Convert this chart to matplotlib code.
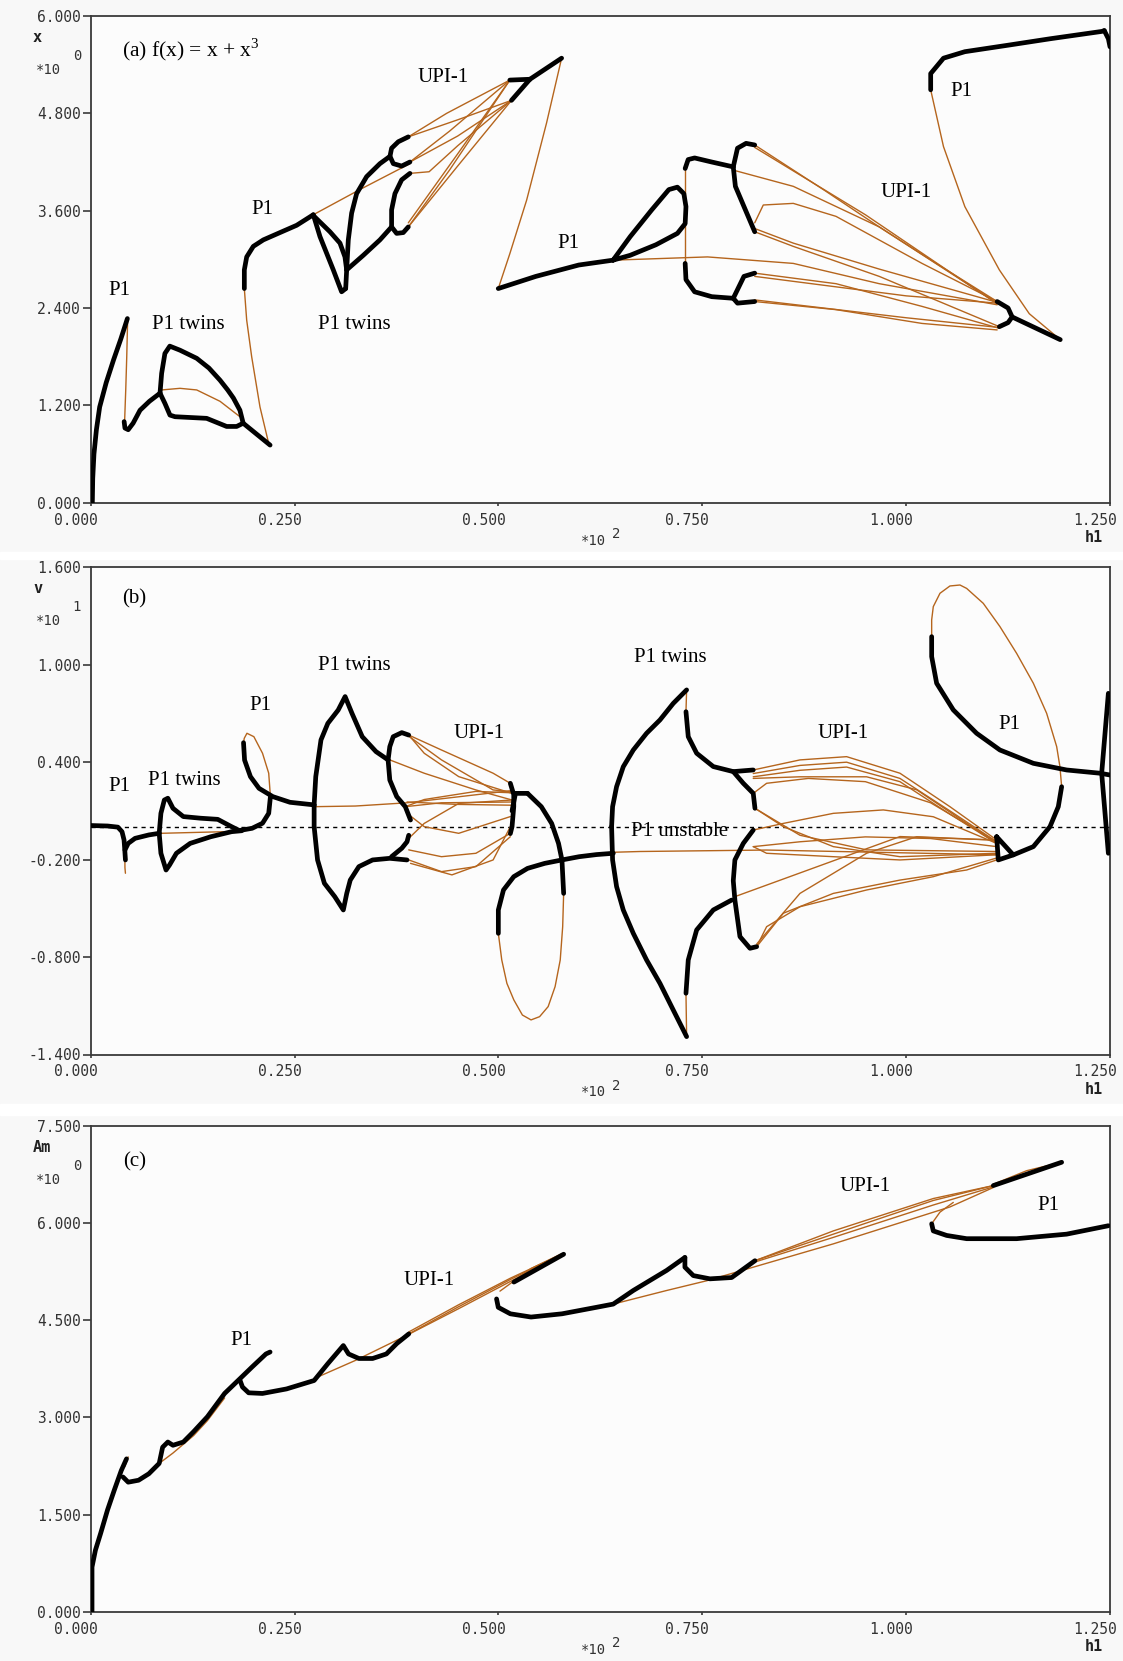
import matplotlib
matplotlib.use("Agg")
import matplotlib.pyplot as plt
import matplotlib.transforms as mtransforms
from matplotlib.patches import Rectangle

W, H = 1123, 1661
BLACK = '#000000'
BROWN = '#b5651d'
plt.rcParams['mathtext.fontset'] = 'custom'
plt.rcParams['mathtext.rm'] = 'Liberation Serif'

h_ticks = [0.0, 0.25, 0.5, 0.75, 1.0, 1.25]
h_tick_labels = ['0.000', '0.250', '0.500', '0.750', '1.000', '1.250']

# ---------------- panel (a): x ----------------
a_yticks = [0.0, 1.2, 2.4, 3.6, 4.8, 6.0]
a_ylabels = ['0.000', '1.200', '2.400', '3.600', '4.800', '6.000']

a_rise = ([0.002, 0.0025, 0.004, 0.007, 0.011, 0.019, 0.028, 0.037, 0.045],
          [0.0, 0.30, 0.60, 0.90, 1.18, 1.48, 1.76, 2.02, 2.27])
a_p1_twins = ([0.041, 0.042, 0.046, 0.052, 0.0605, 0.072, 0.085],
              [1.00, 0.92, 0.90, 0.98, 1.14, 1.25, 1.35])
a_tw_up = ([0.085, 0.087, 0.091, 0.097, 0.1095, 0.130, 0.145, 0.1586, 0.168, 0.175, 0.183, 0.187],
           [1.35, 1.595, 1.84, 1.93, 1.88, 1.78, 1.66, 1.51, 1.39, 1.29, 1.14, 0.98])
a_tw_low = ([0.085, 0.091, 0.0972, 0.1034, 0.1422, 0.1667, 0.179, 0.187, 0.220],
            [1.35, 1.225, 1.08, 1.06, 1.04, 0.94, 0.94, 0.98, 0.71])
a_p1_mid = ([0.1884, 0.1884, 0.1913, 0.1994, 0.2117, 0.2321, 0.2526, 0.273],
            [2.64, 2.87, 3.03, 3.16, 3.24, 3.33, 3.42, 3.55])
a_v_left = ([0.273, 0.2812, 0.2975, 0.3077, 0.3127], [3.55, 3.28, 2.87, 2.60, 2.64])
a_v_inner = ([0.274, 0.2934, 0.3057, 0.3118, 0.3139], [3.53, 3.34, 3.20, 3.03, 2.87])
a_v_right = ([0.3127, 0.3139, 0.3159, 0.320, 0.3261, 0.3384, 0.3547, 0.367],
             [2.64, 2.87, 3.24, 3.57, 3.81, 4.02, 4.18, 4.27])
a_bub_top = ([0.3895, 0.3772, 0.369, 0.367, 0.3711, 0.3813, 0.3915],
             [4.51, 4.45, 4.37, 4.27, 4.18, 4.15, 4.20])
a_to_bub = ([0.3139, 0.3343, 0.3547, 0.369], [2.87, 3.05, 3.24, 3.40])
a_bub_low = ([0.3915, 0.3813, 0.3731, 0.369, 0.369, 0.3752, 0.3833, 0.3895],
             [4.06, 3.98, 3.81, 3.61, 3.40, 3.32, 3.33, 3.40])
a_top_flat = ([0.514, 0.5386], [5.21, 5.22])
a_top_diag = ([0.516, 0.5386], [4.96, 5.22])
a_top_peak = ([0.5386, 0.5775], [5.22, 5.48])
a_p1_low = ([0.4998, 0.5459, 0.5985, 0.6406], [2.64, 2.79, 2.93, 2.99])
a_loop = ([0.6406, 0.6616, 0.688, 0.709, 0.7195, 0.7274, 0.730, 0.729, 0.7195, 0.6932, 0.6616, 0.6406],
          [2.99, 3.28, 3.61, 3.86, 3.89, 3.81, 3.65, 3.44, 3.32, 3.18, 3.05, 2.99])
a_upper_br = ([0.729, 0.7327, 0.7406, 0.7616, 0.788], [4.12, 4.23, 4.25, 4.20, 4.14])
a_upi_top = ([0.788, 0.7932, 0.8037, 0.8143], [4.14, 4.37, 4.43, 4.41])
a_upi_mid = ([0.788, 0.7906, 0.8037, 0.8143], [4.14, 3.90, 3.59, 3.34])
a_lower_br = ([0.729, 0.730, 0.7406, 0.7616, 0.788], [2.95, 2.75, 2.60, 2.54, 2.52])
a_low_top = ([0.788, 0.8011, 0.8143], [2.52, 2.79, 2.83])
a_low_bot = ([0.788, 0.7932, 0.8143], [2.52, 2.46, 2.48])
a_junction = ([1.1116, 1.125, 1.13, 1.125, 1.1143], [2.48, 2.40, 2.29, 2.22, 2.17])
a_tail = ([1.13, 1.189], [2.29, 2.01])
a_top_p1 = ([1.0301, 1.0301, 1.0458, 1.072, 1.125, 1.177, 1.24, 1.243],
            [5.09, 5.29, 5.48, 5.56, 5.64, 5.72, 5.81, 5.82])
a_edge = ([1.243, 1.248, 1.25], [5.82, 5.72, 5.62])

a_br_p1 = ([0.0453, 0.0442, 0.0430, 0.0415], [2.25, 1.80, 1.40, 0.98])
a_br_twins = ([0.087, 0.1095, 0.130, 0.1586, 0.183], [1.39, 1.41, 1.39, 1.25, 1.06])
a_br_jump = ([0.2178, 0.2076, 0.1974, 0.1913, 0.1884], [0.75, 1.18, 1.80, 2.25, 2.64])
a_br_drop = ([0.5775, 0.559, 0.5346, 0.514, 0.4998], [5.48, 4.68, 3.73, 3.07, 2.64])
a_br_vert = ([0.729, 0.729], [4.10, 2.95])
a_br_big = ([1.0301, 1.0458, 1.072, 1.1143, 1.151, 1.189], [5.09, 4.39, 3.65, 2.87, 2.33, 2.01])
a_g1 = ([0.3895, 0.4365, 0.514], [4.51, 4.80, 5.21])
a_g2 = ([0.3915, 0.44, 0.514], [4.20, 4.58, 5.21])
a_g3 = ([0.3915, 0.45, 0.516], [4.20, 4.52, 4.96])
a_g4 = ([0.3915, 0.415, 0.45, 0.516], [4.06, 4.08, 4.40, 4.96])
a_g5 = ([0.3895, 0.44, 0.514], [3.40, 4.10, 5.21])
a_g6 = ([0.3895, 0.45, 0.516], [3.40, 4.15, 4.96])
a_g7 = ([0.3895, 0.45, 0.514], [3.45, 4.30, 5.21])
a_g8 = ([0.273, 0.33, 0.3915], [3.55, 3.86, 4.18])
a_g9 = ([0.3895, 0.45, 0.516], [4.51, 4.72, 4.96])
a_f1 = ([0.8143, 0.90, 0.967, 1.04, 1.1116], [4.41, 3.85, 3.40, 2.93, 2.48])
a_f1b = ([0.8143, 0.95, 1.1116], [4.38, 3.55, 2.45])
a_f2 = ([0.788, 0.8616, 0.967, 1.1116], [4.10, 3.90, 3.40, 2.46])
a_f3 = ([0.8143, 0.8248, 0.8616, 0.914, 1.0195, 1.1116], [3.45, 3.67, 3.69, 3.53, 2.95, 2.48])
a_f4 = ([0.8143, 0.8616, 0.967, 1.1143], [3.34, 3.16, 2.79, 2.17])
a_f5 = ([0.8143, 0.8616, 0.967, 1.1116], [3.38, 3.20, 2.88, 2.47])
a_f6 = ([0.6406, 0.7564, 0.8616, 0.967, 1.1116], [2.99, 3.03, 2.95, 2.70, 2.44])
a_f7 = ([0.8143, 0.914, 1.0195, 1.1143], [2.83, 2.70, 2.42, 2.15])
a_f8 = ([0.8143, 1.0, 1.1116], [2.79, 2.55, 2.46])
a_f9 = ([0.8143, 0.914, 1.0195, 1.1116], [2.48, 2.38, 2.21, 2.13])
a_f10 = ([0.8143, 1.0, 1.1143], [2.50, 2.28, 2.16])

a_stable = [a_rise, a_p1_twins, a_tw_up, a_tw_low, a_p1_mid, a_v_left, a_v_inner, a_v_right,
            a_bub_top, a_to_bub, a_bub_low, a_top_flat, a_top_diag, a_top_peak, a_p1_low,
            a_loop, a_upper_br, a_upi_top, a_upi_mid, a_lower_br, a_low_top, a_low_bot,
            a_junction, a_tail, a_top_p1, a_edge]
a_unstable = [a_br_p1, a_br_twins, a_br_jump, a_br_drop, a_br_vert, a_br_big,
              a_g1, a_g2, a_g3, a_g4, a_g5, a_g6, a_g7, a_g8, a_g9,
              a_f1, a_f1b, a_f2, a_f3, a_f4, a_f5, a_f6, a_f7, a_f8, a_f9, a_f10]

a_text = ['P1', 'P1 twins', 'P1', 'P1 twins', 'UPI-1', 'P1', 'UPI-1', 'P1']
a_text_h = [0.0356, 0.1202, 0.211, 0.3227, 0.432, 0.5864, 0.9994, 1.068]
a_text_y = [2.62, 2.20, 3.61, 2.20, 5.24, 3.19, 3.83, 5.07]

# ---------------- panel (b): v ----------------
b_yticks = [-1.4, -0.8, -0.2, 0.4, 1.0, 1.6]
b_ylabels = ['-1.400', '-0.800', '-0.200', '0.400', '1.000', '1.600']

b_flat = ([0.0, 0.0207, 0.0333, 0.0384, 0.0409, 0.0418, 0.0426],
          [0.01, 0.007, 0.0, -0.028, -0.079, -0.141, -0.202])
b_to_tw = ([0.042, 0.046, 0.0544, 0.0713, 0.084], [-0.14, -0.10, -0.069, -0.048, -0.038])
b_tw1_up = ([0.084, 0.0861, 0.0903, 0.0946, 0.1009, 0.1136, 0.1347, 0.1558, 0.1727, 0.1811],
            [-0.038, 0.085, 0.167, 0.178, 0.116, 0.065, 0.055, 0.048, 0.003, -0.018])
b_tw1_low = ([0.084, 0.0861, 0.0924, 0.0967, 0.1051, 0.122, 0.1473, 0.1727, 0.1853],
             [-0.038, -0.161, -0.264, -0.233, -0.161, -0.10, -0.059, -0.028, -0.022])
b_to_p1 = ([0.1811, 0.198, 0.2107, 0.2183, 0.2204], [-0.022, -0.007, 0.024, 0.085, 0.188])
b_p1_down = ([0.1874, 0.1887, 0.1959, 0.2064, 0.2233, 0.2444, 0.274],
             [0.52, 0.413, 0.311, 0.239, 0.188, 0.153, 0.137])
b_tw2_up = ([0.274, 0.276, 0.2824, 0.2908, 0.3035, 0.312, 0.3204, 0.333, 0.3499, 0.3647],
            [0.137, 0.311, 0.537, 0.639, 0.721, 0.804, 0.701, 0.557, 0.465, 0.414])
b_tw2_low = ([0.274, 0.274, 0.2782, 0.2866, 0.2993, 0.3098, 0.314, 0.3183, 0.3289, 0.3457, 0.3668, 0.3879],
             [0.137, 0.003, -0.202, -0.346, -0.428, -0.51, -0.408, -0.326, -0.243, -0.202, -0.192, -0.202])
b_bub_up = ([0.3647, 0.3668, 0.371, 0.3815, 0.39], [0.414, 0.496, 0.557, 0.582, 0.567])
b_bub_down = ([0.3647, 0.3668, 0.3753, 0.3858, 0.3922], [0.414, 0.29, 0.188, 0.126, 0.044])
b_bub_low = ([0.3689, 0.3815, 0.3879, 0.3900], [-0.182, -0.13, -0.09, -0.05])
b_r_vert = ([0.5146, 0.5188, 0.5188, 0.5167, 0.5146], [0.27, 0.20, 0.126, 0.003, -0.04])
b_r_x = ([0.5167, 0.5209, 0.5357], [0.10, 0.208, 0.208])
b_r_down = ([0.5357, 0.5526, 0.5653, 0.5737, 0.5779, 0.58], [0.208, 0.126, 0.023, -0.10, -0.202, -0.408])
b_mid = ([0.4999, 0.4999, 0.5062, 0.5188, 0.5357, 0.5568, 0.5779, 0.599, 0.6202, 0.6409],
         [-0.654, -0.51, -0.387, -0.305, -0.254, -0.223, -0.202, -0.182, -0.169, -0.161])
b_tw3_up = ([0.6388, 0.64, 0.6449, 0.6531, 0.6654, 0.6817, 0.6981, 0.7144, 0.7308],
            [0.003, 0.126, 0.249, 0.372, 0.475, 0.578, 0.66, 0.762, 0.845])
b_tw3_low = ([0.6388, 0.64, 0.6449, 0.6531, 0.6654, 0.6817, 0.6981, 0.7144, 0.7308],
             [0.003, -0.202, -0.366, -0.51, -0.654, -0.818, -0.962, -1.126, -1.29])
b_tw3_r_up = ([0.730, 0.7328, 0.7431, 0.7635, 0.788, 0.8125], [0.711, 0.557, 0.455, 0.373, 0.342, 0.352])
b_tw3_r_low = ([0.730, 0.7328, 0.7431, 0.7635, 0.786], [-1.023, -0.818, -0.633, -0.51, -0.449])
b_upi_a = ([0.788, 0.8003, 0.8125, 0.8146], [0.342, 0.27, 0.208, 0.116])
b_upi_b = ([0.8125, 0.8003, 0.79, 0.788, 0.79, 0.7962, 0.8085, 0.8167],
           [-0.018, -0.10, -0.202, -0.33, -0.449, -0.674, -0.746, -0.736])
b_conv = ([1.111, 1.113, 1.1314, 1.111], [-0.059, -0.202, -0.171, -0.059])
b_p1_up = ([1.1314, 1.156, 1.1764, 1.1866, 1.1907], [-0.171, -0.12, 0.003, 0.126, 0.249])
b_p1_curve = ([1.0313, 1.0313, 1.0374, 1.0578, 1.0864, 1.115, 1.156, 1.1968, 1.2377, 1.25],
              [1.173, 1.05, 0.886, 0.722, 0.578, 0.475, 0.393, 0.352, 0.332, 0.321])
b_edge = ([1.248, 1.2398, 1.248], [0.824, 0.332, -0.161])

b_br_dip = ([0.0418, 0.042, 0.0426], [-0.14, -0.25, -0.284])
b_br_tw1 = ([0.0861, 0.1642], [-0.038, -0.028])
b_br_p1 = ([0.2204, 0.2183, 0.2107, 0.2001, 0.1916, 0.1883, 0.1874],
           [0.188, 0.332, 0.455, 0.557, 0.578, 0.547, 0.52])
b_br_loop = ([0.58, 0.5788, 0.5758, 0.5695, 0.561, 0.5505, 0.54, 0.5294, 0.5189, 0.5104, 0.5041, 0.4999],
             [-0.408, -0.613, -0.818, -0.982, -1.105, -1.167, -1.187, -1.157, -1.064, -0.962, -0.818, -0.654])
b_br_tw3_top = ([0.7308, 0.7300], [0.845, 0.711])
b_br_tw3_bot = ([0.73, 0.7308], [-1.023, -1.29])
b_br_big = ([1.1907, 1.1886, 1.1846, 1.1723, 1.156, 1.1355, 1.115, 1.0946, 1.0742, 1.066,
             1.0537, 1.0415, 1.0333, 1.0313, 1.0313],
            [0.249, 0.372, 0.496, 0.701, 0.886, 1.070, 1.235, 1.378, 1.470, 1.491,
             1.485, 1.44, 1.358, 1.276, 1.173])
b_br_edge = ([1.2398, 1.25], [0.332, 0.326])
b_bf1 = ([0.39, 0.4302, 0.4935, 0.5146], [0.567, 0.475, 0.332, 0.27])
b_bf2 = ([0.39, 0.409, 0.4513, 0.5167], [0.567, 0.455, 0.311, 0.208])
b_bf3 = ([0.39, 0.4302, 0.4935, 0.5357], [0.560, 0.414, 0.229, 0.208])
b_bf4 = ([0.3668, 0.409, 0.4724, 0.5167], [0.414, 0.332, 0.229, 0.167])
b_bf5 = ([0.3858, 0.409, 0.4724, 0.5357], [0.126, 0.17, 0.22, 0.208])
b_bf6 = ([0.3858, 0.43, 0.5188], [0.126, 0.15, 0.155])
b_bf7 = ([0.388, 0.409, 0.4513, 0.5146], [0.085, 0.003, -0.038, 0.065])
b_bf8 = ([0.388, 0.409, 0.4513, 0.5167], [-0.079, 0.023, 0.146, 0.167])
b_bf9 = ([0.39, 0.4302, 0.4724, 0.5146], [-0.14, -0.182, -0.161, -0.038])
b_bf10 = ([0.39, 0.4302, 0.4724, 0.5146], [-0.202, -0.274, -0.243, -0.059])
b_bf11 = ([0.3922, 0.443, 0.4935, 0.5167], [-0.223, -0.294, -0.202, 0.023])
b_bf12 = ([0.274, 0.3246, 0.388, 0.5146], [0.126, 0.13, 0.15, 0.224])
b_bf13 = ([0.3879, 0.45, 0.5167], [0.155, 0.14, 0.135])
b_cf1 = ([0.8125, 0.8698, 0.927, 0.9924, 1.0537, 1.111], [0.352, 0.414, 0.434, 0.332, 0.126, -0.079])
b_cf2 = ([0.8125, 0.8698, 0.927, 0.9924, 1.0537, 1.111], [0.33, 0.38, 0.40, 0.30, 0.10, -0.09])
b_cf3 = ([0.8125, 0.8698, 0.927, 0.9924, 1.0537, 1.111], [0.31, 0.35, 0.37, 0.28, 0.08, -0.10])
b_cf4 = ([0.8125, 0.8698, 0.9515, 1.0129, 1.111], [0.30, 0.31, 0.31, 0.23, -0.10])
b_cf5 = ([0.8125, 0.8289, 0.88, 0.95, 1.03, 1.111], [0.208, 0.27, 0.30, 0.28, 0.15, -0.09])
b_cf6 = ([0.8146, 0.8494, 0.9107, 0.9924, 1.111], [0.116, 0.003, -0.12, -0.182, -0.161])
b_cf7 = ([0.8146, 0.8698, 0.9515, 1.111], [0.116, -0.05, -0.14, -0.15])
b_cf8 = ([0.8125, 0.8494, 0.9107, 0.972, 1.0333, 1.111], [-0.018, 0.023, 0.085, 0.106, 0.064, -0.10])
b_cf9 = ([0.8125, 0.8289, 0.9107, 0.9924, 1.111], [-0.12, -0.161, -0.182, -0.202, -0.17])
b_cf10 = ([0.8125, 0.87, 0.95, 1.03, 1.111], [-0.12, -0.09, -0.06, -0.07, -0.12])
b_cf11 = ([0.8167, 0.8494, 0.9107, 0.9924, 1.0742, 1.111], [-0.736, -0.53, -0.408, -0.326, -0.264, -0.202])
b_cf12 = ([0.8167, 0.8289, 0.8698, 0.9515, 1.0333, 1.111], [-0.736, -0.613, -0.49, -0.387, -0.305, -0.19])
b_cf13 = ([0.8167, 0.8698, 0.9515, 1.0129, 1.111], [-0.72, -0.408, -0.161, -0.059, -0.08])
b_cf14 = ([0.79, 0.9924, 1.111], [-0.428, -0.058, -0.08])
b_cf15 = ([0.6388, 0.6736, 0.8289, 1.111], [-0.155, -0.15, -0.141, -0.17])
b_zero = ([0.0, 1.25], [0.0, 0.0])

b_stable = [b_flat, b_to_tw, b_tw1_up, b_tw1_low, b_to_p1, b_p1_down, b_tw2_up, b_tw2_low,
            b_bub_up, b_bub_down, b_bub_low, b_r_vert, b_r_x, b_r_down, b_mid, b_tw3_up,
            b_tw3_low, b_tw3_r_up, b_tw3_r_low, b_upi_a, b_upi_b, b_conv, b_p1_up,
            b_p1_curve, b_edge]
b_unstable = [b_br_dip, b_br_tw1, b_br_p1, b_br_loop, b_br_tw3_top, b_br_tw3_bot, b_br_big,
              b_br_edge, b_bf1, b_bf2, b_bf3, b_bf4, b_bf5, b_bf6, b_bf7, b_bf8, b_bf9,
              b_bf10, b_bf11, b_bf12, b_bf13, b_cf1, b_cf2, b_cf3, b_cf4, b_cf5, b_cf6,
              b_cf7, b_cf8, b_cf9, b_cf10, b_cf11, b_cf12, b_cf13, b_cf14, b_cf15]

b_text = ['(b)', 'P1', 'P1 twins', 'P1', 'P1 twins', 'UPI-1', 'P1 twins', 'UPI-1', 'P1', 'P1 unstable']
b_text_h = [0.0538, 0.0356, 0.115, 0.2084, 0.3227, 0.476, 0.711, 0.923, 1.127, 0.7217]
b_text_y = [1.403, 0.251, 0.29, 0.748, 0.997, 0.578, 1.043, 0.578, 0.63, -0.024]

# ---------------- panel (c): Am ----------------
c_yticks = [0.0, 1.5, 3.0, 4.5, 6.0, 7.5]
c_ylabels = ['0.000', '1.500', '3.000', '4.500', '6.000', '7.500']

c_rise = ([0.0016, 0.0016, 0.0058, 0.0122, 0.0206, 0.029, 0.0375, 0.0439],
          [0.0, 0.69, 0.95, 1.21, 1.57, 1.88, 2.18, 2.36])
c_seg2 = ([0.0396, 0.046, 0.0587, 0.0713, 0.084, 0.0882, 0.0946, 0.1009, 0.1136, 0.1262,
           0.1431, 0.1642, 0.1832, 0.198, 0.2149, 0.220],
          [2.08, 2.00, 2.03, 2.13, 2.29, 2.54, 2.62, 2.57, 2.62, 2.78, 3.01, 3.37, 3.60, 3.78, 3.98, 4.01])
c_seg3 = ([0.1832, 0.1861, 0.1937, 0.2106, 0.2402, 0.274, 0.2908, 0.3098, 0.3162, 0.3289,
           0.3457, 0.3626, 0.3753, 0.3901],
          [3.57, 3.47, 3.38, 3.37, 3.44, 3.57, 3.83, 4.11, 3.98, 3.91, 3.91, 3.98, 4.14, 4.29])
c_seg4 = ([0.519, 0.580], [5.09, 5.52])
c_seg5 = ([0.4977, 0.4998, 0.5146, 0.54, 0.578, 0.6201, 0.6408, 0.6654, 0.7063, 0.7287],
          [4.83, 4.70, 4.60, 4.55, 4.60, 4.70, 4.75, 4.96, 5.27, 5.47])
c_dip = ([0.7287, 0.7287, 0.739, 0.7594, 0.786, 0.8003, 0.8146], [5.47, 5.32, 5.19, 5.14, 5.16, 5.29, 5.42])
c_seg8 = ([1.1069, 1.1907], [6.58, 6.94])
c_p1 = ([1.0313, 1.0333, 1.0497, 1.0742, 1.1355, 1.1968, 1.248], [5.99, 5.88, 5.81, 5.76, 5.76, 5.83, 5.96])

c_br1 = ([0.0418, 0.046], [2.24, 2.39])
c_br2 = ([0.084, 0.1009, 0.1262, 0.1431, 0.1642], [2.29, 2.45, 2.72, 2.95, 3.30])
c_br3 = ([0.274, 0.3246, 0.388, 0.4513, 0.5147, 0.578], [3.60, 3.88, 4.27, 4.68, 5.10, 5.52])
c_br3b = ([0.3901, 0.4513, 0.5147, 0.578], [4.32, 4.74, 5.15, 5.52])
c_br3c = ([0.3901, 0.4513, 0.5147, 0.578], [4.29, 4.71, 5.13, 5.52])
c_br_top = ([0.5019, 0.54, 0.578], [4.95, 5.30, 5.53])
c_br4 = ([0.6408, 0.7063, 0.7553, 0.8125, 0.9107, 1.0537, 1.1069], [4.75, 4.96, 5.11, 5.32, 5.68, 6.25, 6.55])
c_bun1 = ([0.8146, 0.9107, 1.0333, 1.1069], [5.42, 5.83, 6.35, 6.58])
c_bun2 = ([0.8146, 0.9107, 1.0333, 1.1069], [5.42, 5.88, 6.38, 6.58])
c_bun3 = ([0.8146, 0.9107, 1.0333, 1.1069], [5.40, 5.78, 6.28, 6.56])
c_loop = ([1.1069, 1.1478, 1.1907], [6.60, 6.81, 6.94])
c_br_p1 = ([1.0313, 1.0415, 1.0578], [5.99, 6.17, 6.32])

c_stable = [c_rise, c_seg2, c_seg3, c_seg4, c_seg5, c_dip, c_seg8, c_p1]
c_unstable = [c_br1, c_br2, c_br3, c_br3b, c_br3c, c_br_top, c_br4, c_bun1, c_bun2, c_bun3,
              c_loop, c_br_p1]

c_text = ['(c)', 'P1', 'UPI-1', 'UPI-1', 'P1']
c_text_h = [0.0538, 0.185, 0.415, 0.95, 1.175]
c_text_y = [6.943, 4.192, 5.11, 6.567, 6.272]

# ---------------- figure ----------------
fig = plt.figure(figsize=(W / 100, H / 100), dpi=100, facecolor='#f8f8f8')
for y0, y1 in [(552, 559), (1104, 1115)]:
    fig.patches.append(Rectangle((0, 1 - y1 / H), 1, (y1 - y0) / H,
                                 transform=fig.transFigure, color='white', zorder=0))


def px(x, y):
    return x / W, 1 - y / H


def make_axes(top, bottom):
    l, r = 90.7, 1110
    return fig.add_axes([l / W, 1 - bottom / H, (r - l) / W, (bottom - top) / H])


mono = 'DejaVu Sans Mono'


def setup(ax, ylim, yticks, ylabels, top, bottom, ylab, yexp):
    ax.set_xlim(0, 1.25)
    ax.set_ylim(*ylim)
    ax.set_facecolor('#fcfcfc')
    for s in ax.spines.values():
        s.set_color('#3a3a3a')
        s.set_linewidth(1.3)
    ax.set_yticks(yticks)
    ax.set_yticklabels(ylabels, fontfamily=mono, fontsize=10.5, color='#333333')
    ax.tick_params(axis='y', length=6, width=1.2, pad=1, color='#3a3a3a')
    ax.set_xticks(h_ticks)
    ax.set_xticklabels([])
    ax.tick_params(axis='x', length=2.5, width=1.2, color='#3a3a3a')
    trans = mtransforms.offset_copy(ax.get_xaxis_transform(), fig=fig, x=-15, y=-10, units='dots')
    for t, lab in zip(h_ticks, h_tick_labels):
        ax.text(t, 0, lab, transform=trans, ha='center', va='top',
                fontfamily=mono, fontsize=10.5, color='#333333')
    # axis annotations in the old-style layout
    fig.text(*px(593, bottom + 38), '*10', fontfamily=mono, fontsize=10, ha='center', va='center', color='#333333')
    fig.text(*px(616, bottom + 31), '2', fontfamily=mono, fontsize=10, ha='center', va='center', color='#333333')
    fig.text(*px(1094, bottom + 35), 'h1', fontfamily=mono, fontsize=11, fontweight='bold',
             ha='center', va='center', color='#222222')
    fig.text(*px(33, top + 21), ylab, fontfamily=mono, fontsize=11, fontweight='bold',
             ha='left', va='center', color='#222222')
    fig.text(*px(48, top + 54), '*10', fontfamily=mono, fontsize=10, ha='center', va='center', color='#333333')
    fig.text(*px(77, top + 40), yexp, fontfamily=mono, fontsize=10, ha='center', va='center', color='#333333')


def draw(ax, stable, unstable):
    for h, y in unstable:
        ax.plot(h, y, color=BROWN, lw=1.0, solid_joinstyle='round', solid_capstyle='round', zorder=2)
    for h, y in stable:
        ax.plot(h, y, color=BLACK, lw=3.4, solid_joinstyle='round', solid_capstyle='round', zorder=3)


def labels(ax, texts, hs, ys):
    for t, h, y in zip(texts, hs, ys):
        ax.text(h, y, t, fontfamily='Liberation Serif', fontsize=15, ha='center', va='center', zorder=4)


ax_a = make_axes(16, 502.7)
setup(ax_a, (0, 6.0), a_yticks, a_ylabels, 16, 502.7, 'x', '0')
draw(ax_a, a_stable, a_unstable)
labels(ax_a, a_text, a_text_h, a_text_y)
ax_a.text(0.038, 5.58, r'(a) f(x) = x + x$^{3}$', fontfamily='Liberation Serif', fontsize=15.5,
          ha='left', va='center')

ax_b = make_axes(567.3, 1054.5)
setup(ax_b, (-1.4, 1.6), b_yticks, b_ylabels, 567.3, 1054.5, 'v', '1')
ax_b.plot(b_zero[0], b_zero[1], color=BLACK, lw=1.0, ls=(0, (3, 3)), zorder=1)
draw(ax_b, b_stable, b_unstable)
labels(ax_b, b_text, b_text_h, b_text_y)

ax_c = make_axes(1126, 1611.7)
setup(ax_c, (0, 7.5), c_yticks, c_ylabels, 1126, 1611.7, 'Am', '0')
draw(ax_c, c_stable, c_unstable)
labels(ax_c, c_text, c_text_h, c_text_y)

fig.savefig('out.png', dpi=100, facecolor=fig.get_facecolor())
